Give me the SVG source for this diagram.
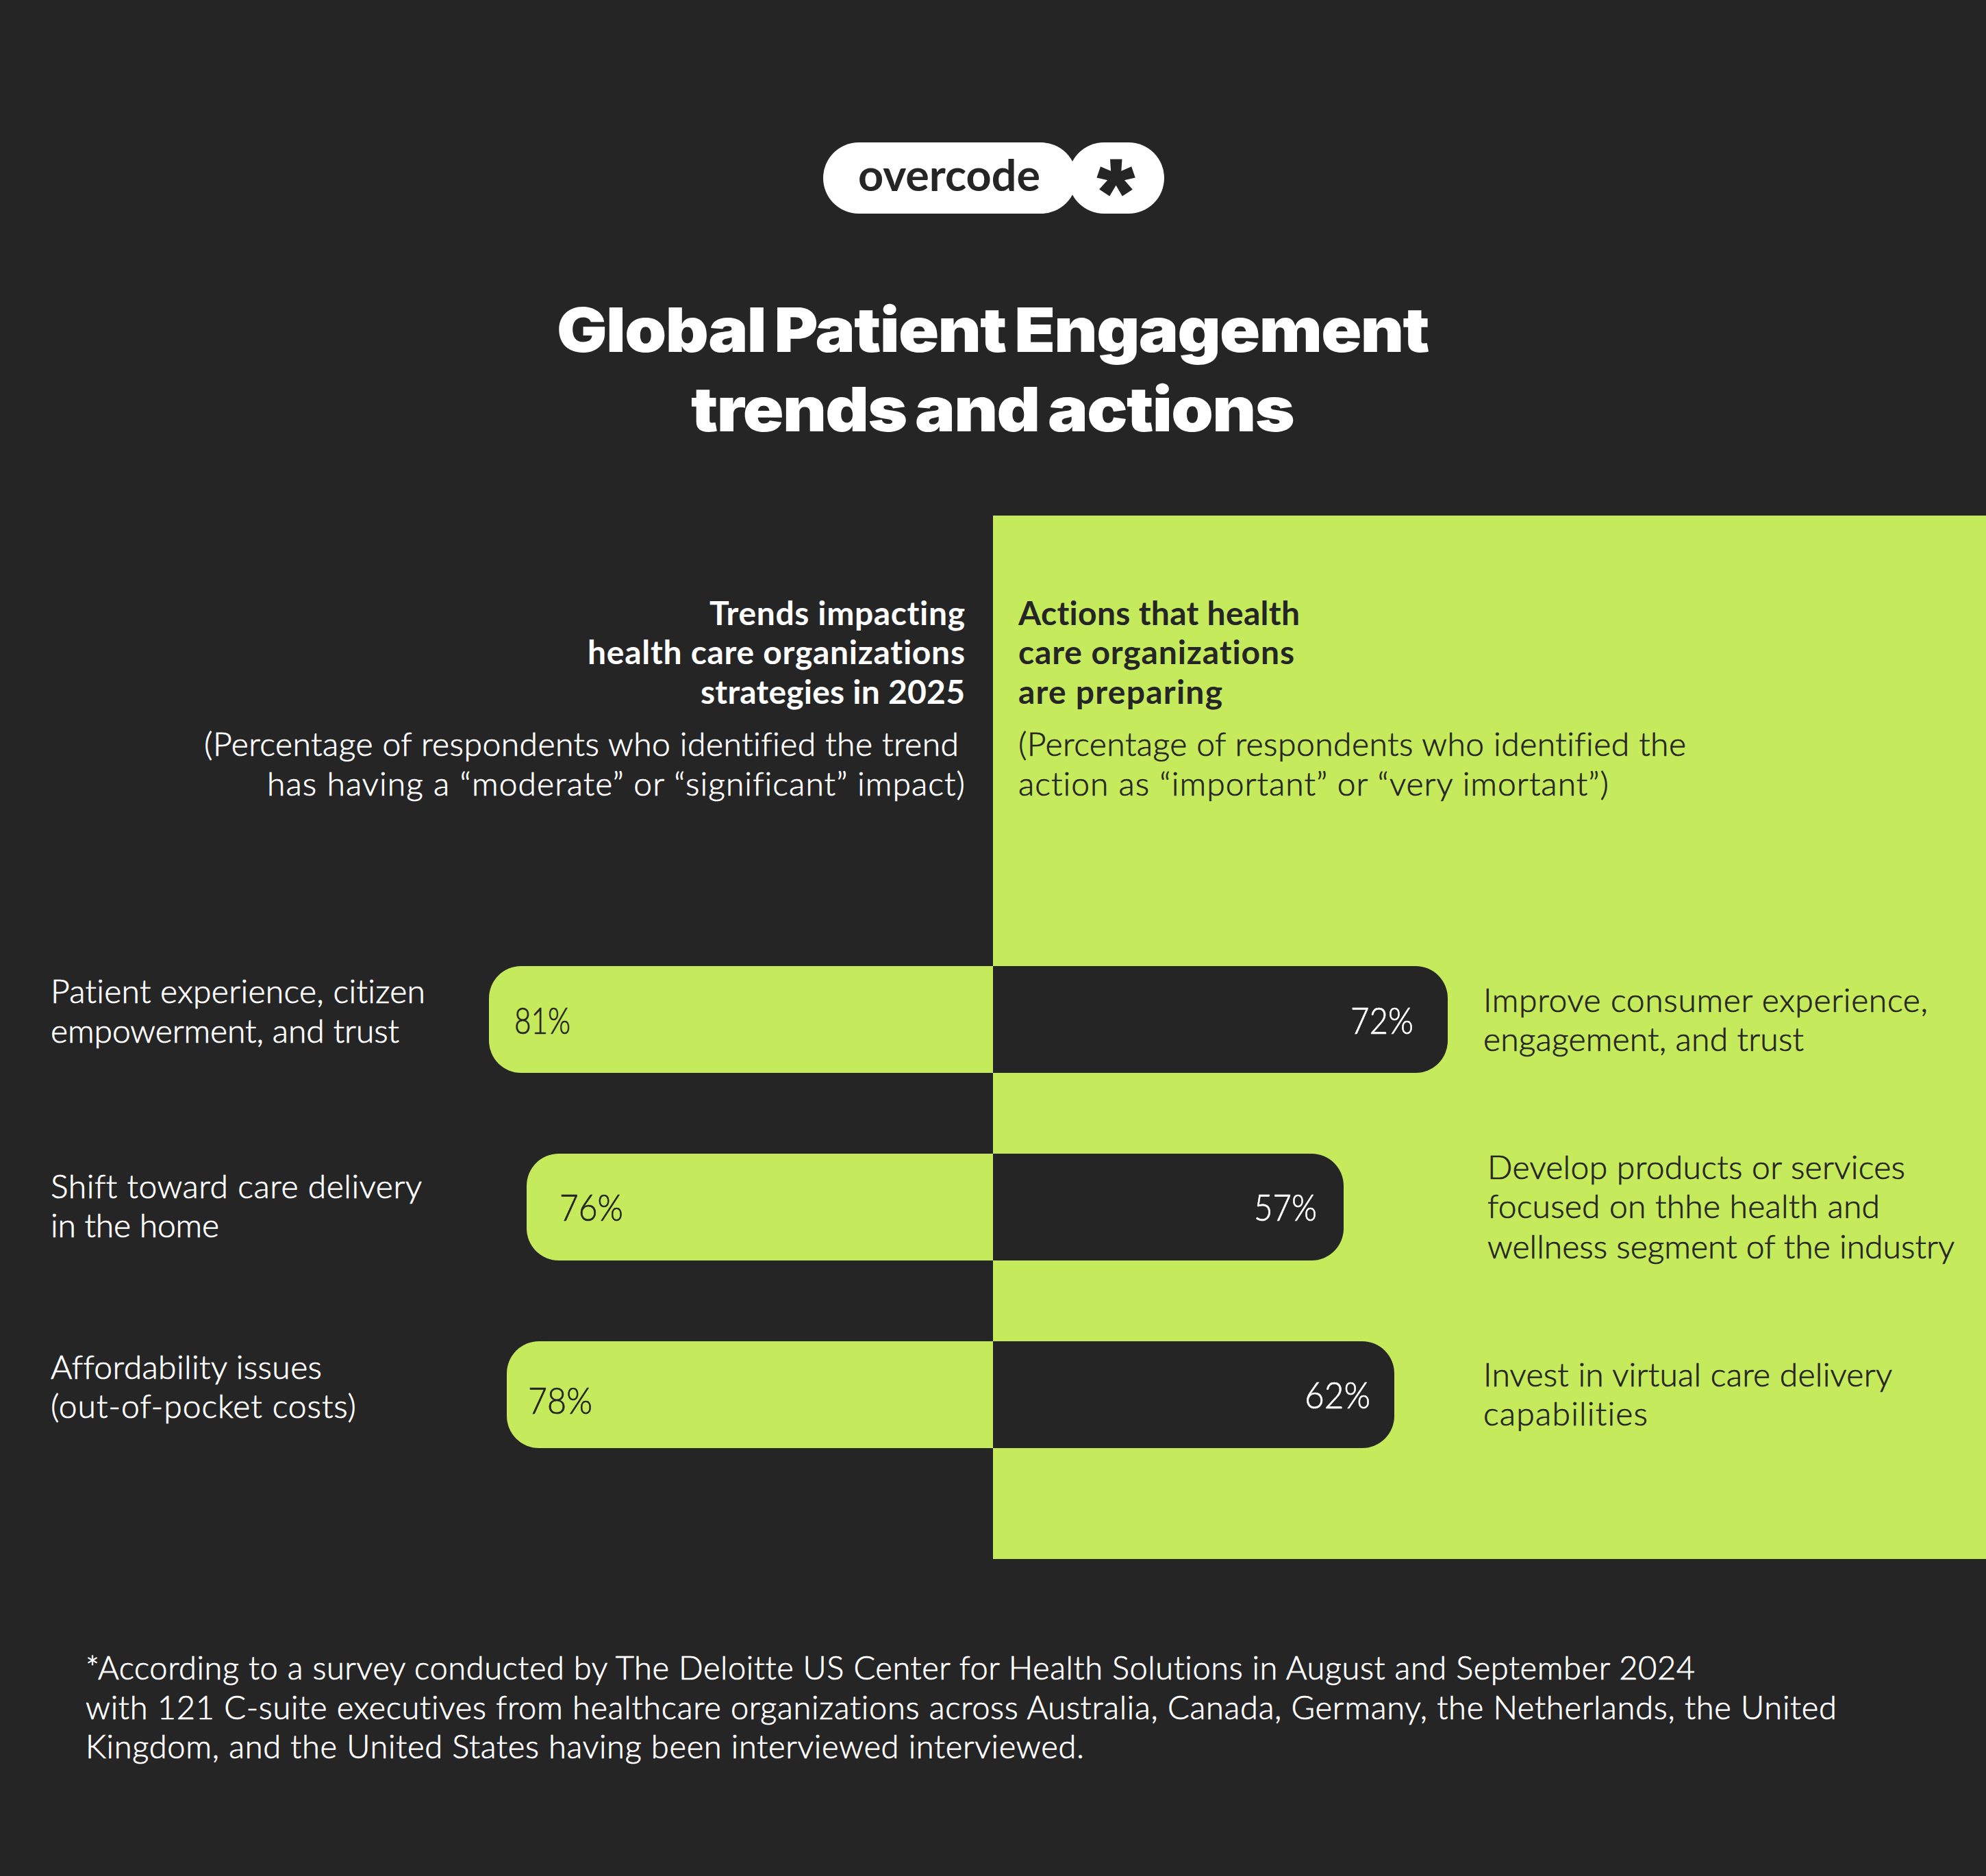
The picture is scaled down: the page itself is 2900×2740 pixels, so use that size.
<svg xmlns="http://www.w3.org/2000/svg" width="2900" height="2740" viewBox="0 0 2900 2740">
<style>
text{font-family:"Lato","Noto Sans",sans-serif;font-weight:300;font-size:48px;font-variant-ligatures:none;stroke-width:.7px}
.l{fill:#fff;stroke:#fff}.d{fill:#252525;stroke:#252525}
.b{font-weight:700;stroke:none}
.p{font-size:54px}
.t{font-family:"Inter","Liberation Sans",sans-serif;font-weight:900;font-size:90px;fill:#fff;letter-spacing:-1.5px;word-spacing:-5px}
.f{font-size:47px;fill:#fff;stroke:#fff}
.g{fill:#c5eb5c}.k{fill:#252525}
</style>
<rect width="2900" height="2740" class="k"/>
<rect id="panel" x="1450" y="753" width="1450" height="1524" class="g"/>
<g id="logo">
<rect x="1560" y="208" width="140" height="104" rx="52" fill="#fff"/>
<rect x="1202" y="208" width="370" height="104" rx="52" fill="#fff"/>
<text x="1253" y="279" textLength="266" lengthAdjust="spacingAndGlyphs" style="font-weight:700;font-size:64px;stroke:none" class="d">overcode</text>
<text x="1603" y="327" style="font-family:'Liberation Sans',sans-serif;font-weight:700;font-size:136px;stroke-width:3px" class="d">*</text>
</g>
<g id="title">
<text class="t" x="813" y="514" textLength="1273" lengthAdjust="spacingAndGlyphs">Global Patient Engagement</text>
<text class="t" x="1009" y="630" textLength="880" lengthAdjust="spacingAndGlyphs">trends and actions</text>
</g>
<g id="trends-header">
<text class="l b" x="1036" y="913" textLength="373">Trends impacting</text>
<text class="l b" x="858" y="970" textLength="551">health care organizations</text>
<text class="l b" x="1023" y="1028" textLength="386">strategies in 2025</text>
<text class="l" x="298" y="1104" textLength="1102">(Percentage of respondents who identified the trend</text>
<text class="l" x="390" y="1162" textLength="1019">has having a “moderate” or “significant” impact)</text>
</g>
<g id="actions-header">
<text class="d b" x="1487" y="913" textLength="411">Actions that health</text>
<text class="d b" x="1487" y="970" textLength="403">care organizations</text>
<text class="d b" x="1487" y="1028" textLength="298">are preparing</text>
<text class="d" x="1487" y="1104" textLength="975">(Percentage of respondents who identified the</text>
<text class="d" x="1487" y="1162" textLength="862">action as “important” or “very imortant”)</text>
</g>
<g id="row-1">
<path class="g" d="M1450 1411H761a47 47 0 0 0-47 47v62a47 47 0 0 0 47 47h689z"/>
<path class="k" d="M1450 1411H2067a47 47 0 0 1 47 47v62a47 47 0 0 1-47 47H1450z"/>
<text class="d p" x="751" y="1510" textLength="82" lengthAdjust="spacingAndGlyphs">81%</text>
<text class="l p" x="1972" y="1510" textLength="92" lengthAdjust="spacingAndGlyphs">72%</text>
<text class="l" x="74" y="1465" textLength="547">Patient experience, citizen</text>
<text class="l" x="74" y="1523" textLength="509">empowerment, and trust</text>
<text class="d" x="2166" y="1478" textLength="649">Improve consumer experience,</text>
<text class="d" x="2166" y="1535" textLength="468">engagement, and trust</text>
</g>
<g id="row-2">
<path class="g" d="M1450 1685H816a47 47 0 0 0-47 47v62a47 47 0 0 0 47 47h634z"/>
<path class="k" d="M1450 1685H1915a47 47 0 0 1 47 47v62a47 47 0 0 1-47 47H1450z"/>
<text class="d p" x="817" y="1783" textLength="93" lengthAdjust="spacingAndGlyphs">76%</text>
<text class="l p" x="1831" y="1783" textLength="92" lengthAdjust="spacingAndGlyphs">57%</text>
<text class="l" x="74" y="1750" textLength="542">Shift toward care delivery</text>
<text class="l" x="74" y="1807" textLength="246">in the home</text>
<text class="d" x="2172" y="1722" textLength="610">Develop products or services</text>
<text class="d" x="2172" y="1779" textLength="573">focused on thhe health and</text>
<text class="d" x="2172" y="1838" textLength="682">wellness segment of the industry</text>
</g>
<g id="row-3">
<path class="g" d="M1450 1959H787a47 47 0 0 0-47 47v62a47 47 0 0 0 47 47h663z"/>
<path class="k" d="M1450 1959H1989a47 47 0 0 1 47 47v62a47 47 0 0 1-47 47H1450z"/>
<text class="d p" x="771" y="2065" textLength="94" lengthAdjust="spacingAndGlyphs">78%</text>
<text class="l p" x="1905" y="2057" textLength="96" lengthAdjust="spacingAndGlyphs">62%</text>
<text class="l" x="74" y="2014" textLength="396">Affordability issues</text>
<text class="l" x="74" y="2071" textLength="446">(out-of-pocket costs)</text>
<text class="d" x="2166" y="2025" textLength="597">Invest in virtual care delivery</text>
<text class="d" x="2166" y="2082" textLength="240">capabilities</text>
</g>
<g id="footnote">
<text class="f" x="125" y="2453" textLength="2350">*According to a survey conducted by The Deloitte US Center for Health Solutions in August and September 2024</text>
<text class="f" x="125" y="2511" textLength="2557">with 121 C-suite executives from healthcare organizations across Australia, Canada, Germany, the Netherlands, the United</text>
<text class="f" x="125" y="2568" textLength="1458">Kingdom, and the United States having been interviewed interviewed.</text>
</g>
</svg>
